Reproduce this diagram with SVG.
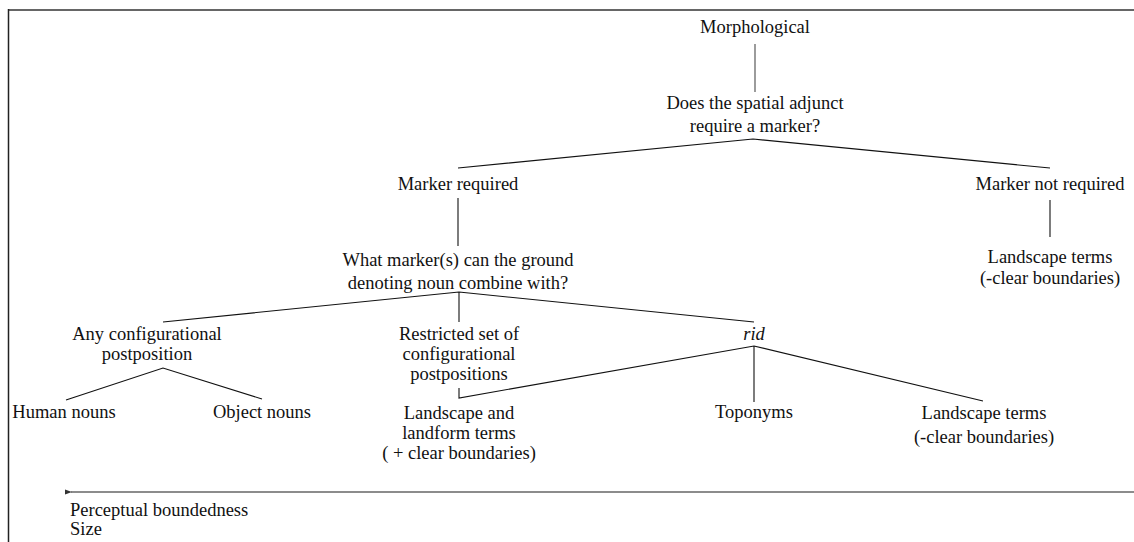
<svg xmlns="http://www.w3.org/2000/svg" width="1134" height="542" viewBox="0 0 1134 542">
<defs>
<style>
text{font-size:18.5px;fill:#111;text-anchor:middle}
.l{text-anchor:start}
.e{stroke:#111;stroke-width:1.1;fill:none}
.g{stroke:#666;stroke-width:1.3;fill:none}
</style>
<marker id="ah" markerWidth="8" markerHeight="6" refX="1" refY="3" orient="auto" markerUnits="userSpaceOnUse">
<path d="M0,3 L7,0.5 L7,5.5 Z" fill="#333"/>
</marker>
</defs>
<rect width="1134" height="542" fill="#fff"/>
<g id="frame">
<line x1="8" y1="10" x2="1134" y2="10" stroke="#666" stroke-width="2"/>
<line x1="8.5" y1="9" x2="8.5" y2="542" stroke="#222" stroke-width="1.5"/>
</g>
<g id="connectors">
<line class="g" x1="755" y1="44" x2="755" y2="92"/>
<polyline class="e" points="458,168 753,139 1050,168"/>
<line class="e" x1="1050" y1="200" x2="1050" y2="237"/>
<line class="e" x1="458" y1="198" x2="458" y2="246"/>
<polyline class="e" points="163,322 459,292 754,322"/>
<line class="e" x1="459" y1="292" x2="459" y2="322"/>
<polyline class="e" points="66,400 163,368 262,399"/>
<polyline class="e" points="459,388 459,398 754,346 983,401"/>
<line class="e" x1="754" y1="346" x2="754" y2="402"/>
<line class="g" x1="1134" y1="492" x2="71" y2="492" marker-end="url(#ah)"/>
</g>
<g font-family="'Liberation Serif', 'DejaVu Serif', serif">
<g id="n-morph"><text x="755" y="33">Morphological</text></g>
<g id="n-q1"><text x="755" y="109">Does the spatial adjunct</text><text x="755" y="132">require a marker?</text></g>
<g id="n-req"><text x="458" y="190">Marker required</text></g>
<g id="n-notreq"><text x="1050" y="190">Marker not required</text></g>
<g id="n-land1"><text x="1050" y="263">Landscape terms</text><text x="1050" y="284">(-clear boundaries)</text></g>
<g id="n-q2"><text x="458" y="266">What marker(s) can the ground</text><text x="458" y="289">denoting noun combine with?</text></g>
<g id="n-any"><text x="147" y="340">Any configurational</text><text x="147" y="360">postposition</text></g>
<g id="n-restr"><text x="459" y="340">Restricted set of</text><text x="459" y="360">configurational</text><text x="459" y="380">postpositions</text></g>
<g id="n-rid"><text x="754" y="340" font-style="italic">rid</text></g>
<g id="n-human"><text x="64" y="418">Human nouns</text></g>
<g id="n-object"><text x="262" y="418">Object nouns</text></g>
<g id="n-landform"><text x="459" y="419">Landscape and</text><text x="459" y="439">landform terms</text><text x="459" y="459">( + clear boundaries)</text></g>
<g id="n-topo"><text x="754" y="418">Toponyms</text></g>
<g id="n-land2"><text x="984" y="419">Landscape terms</text><text x="984" y="443">(-clear boundaries)</text></g>
<g id="axis"><text class="l" x="70" y="516">Perceptual boundedness</text><text class="l" x="70" y="535">Size</text></g>
</g>
</svg>
